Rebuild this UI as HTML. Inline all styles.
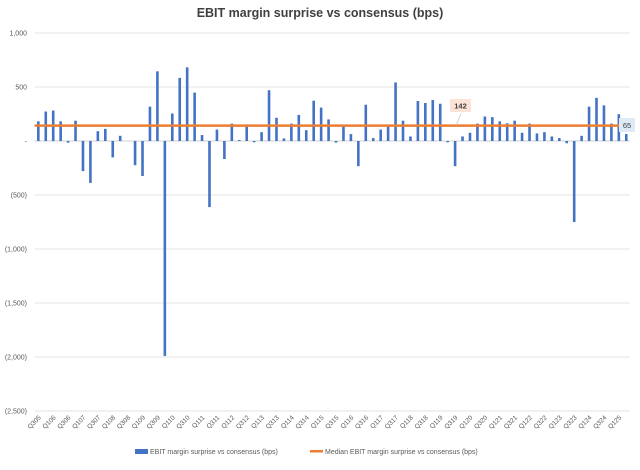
<!DOCTYPE html>
<html><head><meta charset="utf-8"><style>
body{margin:0;background:#fff;font-family:"Liberation Sans",sans-serif}
svg text{font-family:"Liberation Sans",sans-serif}
</style></head><body>
<svg id="c" width="640" height="465">
<text x="320" y="17" text-anchor="middle" font-size="12.5" font-weight="bold" fill="#404040">EBIT margin surprise vs consensus (bps)</text>
<g id="grid"></g><g id="bars"></g><g id="over"></g>
<g>
<rect x="135" y="449" width="13" height="5" fill="#4472C4"/>
<text x="150" y="454" font-size="7" fill="#595959">EBIT margin surprise vs consensus (bps)</text>
<rect x="310" y="450" width="13" height="2.5" fill="#ED7D31"/>
<text x="325" y="454" font-size="7" fill="#595959">Median EBIT margin surprise vs consensus (bps)</text>
</g>
</svg>
<script>
const values=[182,273,282,182,-15,188,-279,-388,91,112,-152,48,0,-224,-324,318,645,-1990,255,585,682,448,55,-612,106,-167,161,9,136,-12,82,470,215,24,161,242,100,373,309,200,-15,136,64,-233,336,27,106,136,542,188,42,370,352,379,345,-12,-233,42,76,161,227,221,182,164,188,76,161,70,82,42,27,-21,-750,48,318,400,330,161,248,65];
const median=142;
const yTicks=[1000,500,0,-500,-1000,-1500,-2000,-2500];
const yTickLabels=["1,000","500","-","(500)","(1,000)","(1,500)","(2,000)","(2,500)"];
const startQ=3,startY=5;
const categories=values.map((v,i)=>{const t=startQ-1+i;const q=t%4+1;const y=startY+Math.floor(t/4);return 'Q'+q+String(y).padStart(2,'0');});
const X0=34.6,X1=630,Y0=141,K=0.108;
const step=(X1-X0)/values.length;
const xc=i=>X0+step*(i+0.5);
const y=v=>Y0-v*K;
const NS='http://www.w3.org/2000/svg';
function mk(tag,attrs,parent,txt){const e=document.createElementNS(NS,tag);for(const k in attrs)e.setAttribute(k,attrs[k]);if(txt!==undefined)e.textContent=txt;parent.appendChild(e);return e;}
const grid=document.getElementById('grid'),bars=document.getElementById('bars'),over=document.getElementById('over');
yTicks.forEach((t,i)=>{
 const l=mk('line',{x1:X0,x2:X1,y1:y(t),y2:y(t),stroke:t===0?'#d0d0d0':'#e3e3e3','stroke-width':1},grid);
 
 
 const tx=mk('text',{x:27,y:y(t)+2.5,'text-anchor':'end','font-size':7,fill:'#595959'},grid,yTickLabels[i]);
 
 
});
values.forEach((v,i)=>{
 const r=mk('rect',{x:xc(i)-1.3,y:Math.min(y(v),Y0),width:2.6,height:Math.abs(y(v)-Y0),fill:'#4472C4'},bars);
 
 
 if(i%2===0){
  const tx=mk('text',{x:0,y:0,'text-anchor':'end','font-size':6.5,fill:'#595959',transform:`translate(${xc(i)+3},${418}) rotate(-45)`},grid,categories[i]);
  
  
 }
});
const ml=mk('line',{x1:X0,x2:xc(values.length-1)-4,y1:y(median),y2:y(median),stroke:'#ED7D31','stroke-width':2.5},over);


const ld=mk('line',{x1:456,x2:461,y1:y(median),y2:y(median)-12,stroke:'#bfbfbf','stroke-width':0.7},over);


const mb=mk('rect',{x:450,y:99,width:21,height:13,fill:'#FBE3D6'},over);


const mt=mk('text',{x:460.5,y:108.5,'text-anchor':'middle','font-size':7.5,'font-weight':'bold',fill:'#404040'},over,String(median));


const lv=values[values.length-1];
const lb=mk('rect',{x:619,y:118,width:16,height:14,fill:'#DEEBF7'},over);


const lt=mk('text',{x:627,y:128,'text-anchor':'middle','font-size':7.5,fill:'#404040'},over,String(lv));


</script>
</body></html>
